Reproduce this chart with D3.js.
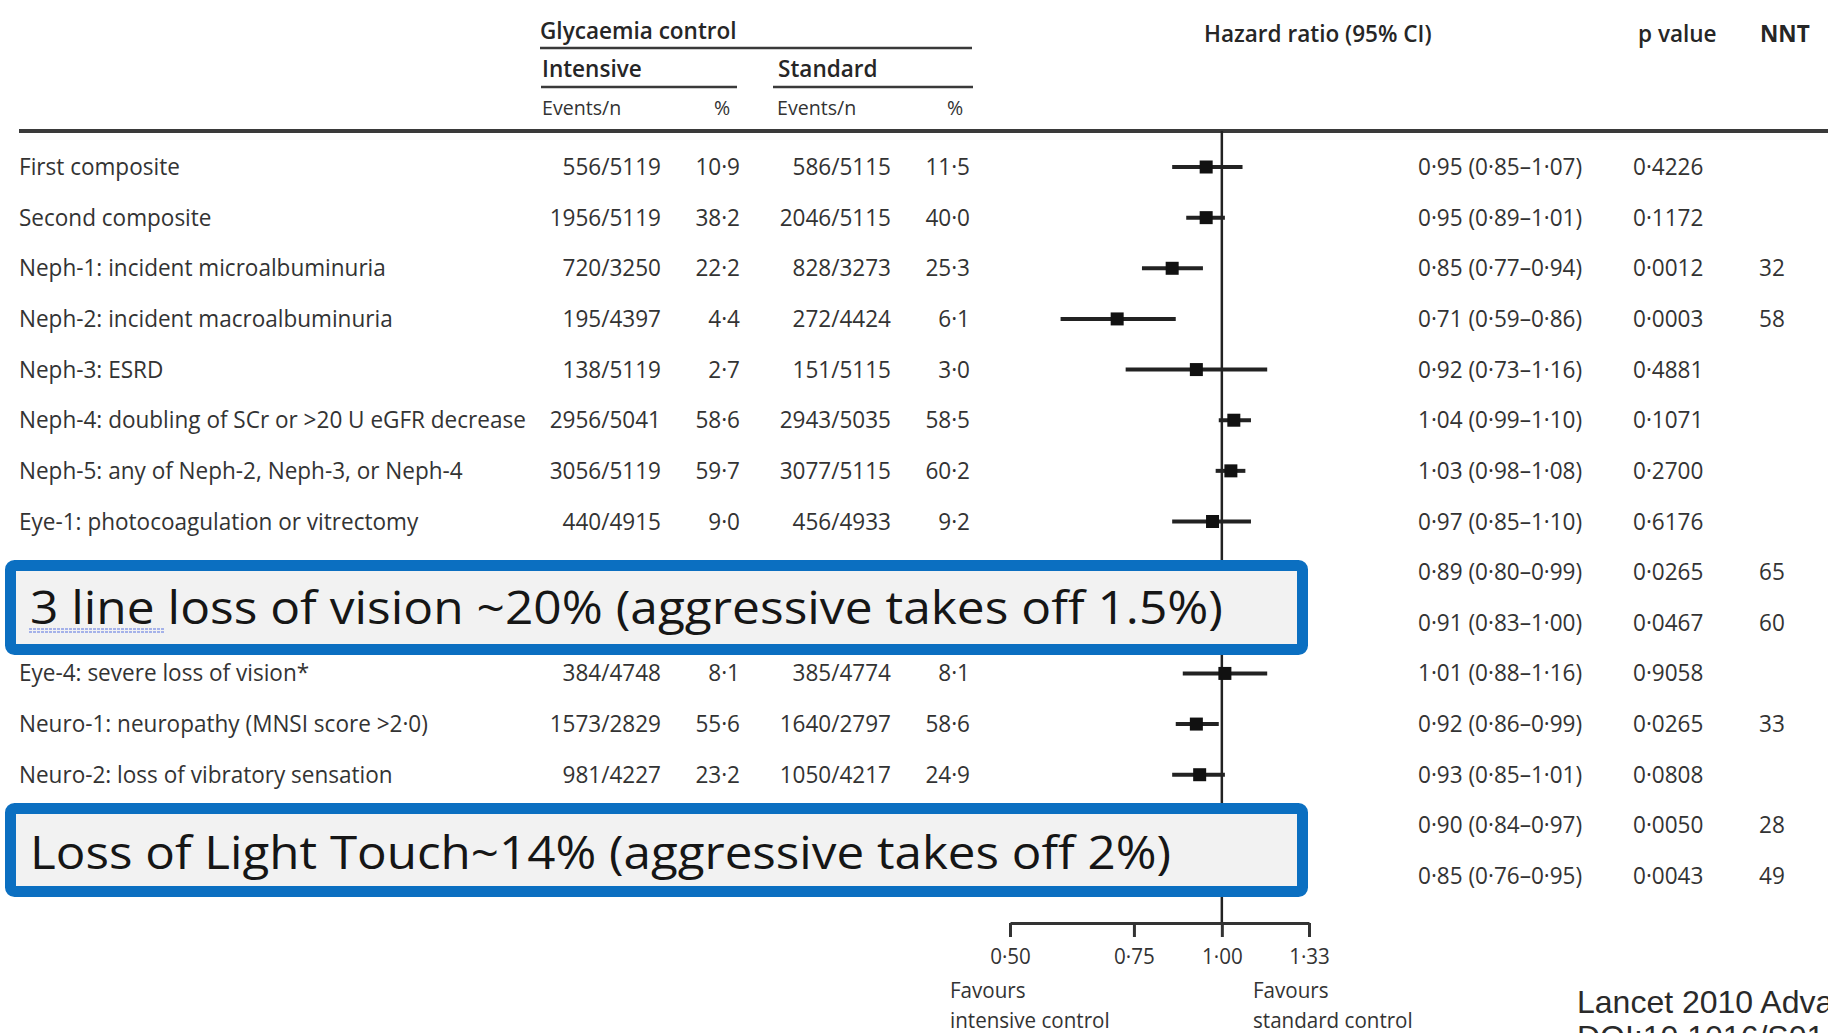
<!DOCTYPE html>
<html>
<head>
<meta charset="utf-8">
<script src="https://cdn.jsdelivr.net/npm/d3@7"></script>
<style>
  html, body { margin: 0; padding: 0; background: #ffffff; }
  svg { display: block; }
</style>
</head>
<body>
<svg id="chart" width="1828" height="1033"></svg>
<script>
// ACCORD microvascular outcomes: intensive vs standard glycaemia control
const outcomes = [
  "First composite",
  "Second composite",
  "Neph-1: incident microalbuminuria",
  "Neph-2: incident macroalbuminuria",
  "Neph-3: ESRD",
  "Neph-4: doubling of SCr or >20 U eGFR decrease",
  "Neph-5: any of Neph-2, Neph-3, or Neph-4",
  "Eye-1: photocoagulation or vitrectomy",
  null,
  null,
  "Eye-4: severe loss of vision*",
  "Neuro-1: neuropathy (MNSI score >2·0)",
  "Neuro-2: loss of vibratory sensation",
  null,
  null
];
const intensiveEvents = ["556/5119", "1956/5119", "720/3250", "195/4397", "138/5119", "2956/5041", "3056/5119", "440/4915", null, null, "384/4748", "1573/2829", "981/4227", null, null];
const intensivePct    = [10.9, 38.2, 22.2, 4.4, 2.7, 58.6, 59.7, 9.0, null, null, 8.1, 55.6, 23.2, null, null];
const standardEvents  = ["586/5115", "2046/5115", "828/3273", "272/4424", "151/5115", "2943/5035", "3077/5115", "456/4933", null, null, "385/4774", "1640/2797", "1050/4217", null, null];
const standardPct     = [11.5, 40.0, 25.3, 6.1, 3.0, 58.5, 60.2, 9.2, null, null, 8.1, 58.6, 24.9, null, null];
const hazardRatio = [0.95, 0.95, 0.85, 0.71, 0.92, 1.04, 1.03, 0.97, 0.89, 0.91, 1.01, 0.92, 0.93, 0.90, 0.85];
const ciLower     = [0.85, 0.89, 0.77, 0.59, 0.73, 0.99, 0.98, 0.85, 0.80, 0.83, 0.88, 0.86, 0.85, 0.84, 0.76];
const ciUpper     = [1.07, 1.01, 0.94, 0.86, 1.16, 1.10, 1.08, 1.10, 0.99, 1.00, 1.16, 0.99, 1.01, 0.97, 0.95];
const pValues = ["0·4226", "0·1172", "0·0012", "0·0003", "0·4881", "0·1071", "0·2700", "0·6176", "0·0265", "0·0467", "0·9058", "0·0265", "0·0808", "0·0050", "0·0043"];
const nnt     = [null, null, 32, 58, null, null, null, null, 65, 60, null, 33, null, 28, 49];
const axisTicks = [0.50, 0.75, 1.00, 1.33];
const callouts = [
  { text: "3 line loss of vision ~20% (aggressive takes off 1.5%)", underlined: "3 line" },
  { text: "Loss of Light Touch~14% (aggressive takes off 2%)", underlined: null }
];
const source = ["Lancet 2010 Advance online publication", "DOI:10.1016/S0140-6736(10)60576-4"];

const svg = d3.select("#chart");
const FONT = "'Open Sans', 'Noto Sans', sans-serif";
const TEXT = "#333333";
const fmt1 = d => d3.format(".1f")(d).replace(".", "·");
const fmt2 = d => d3.format(".2f")(d).replace(".", "·");

// horizontal compression so the table type sets as narrow as the journal face
const probe = svg.append("text").attr("font-family", FONT).attr("font-size", 23).attr("font-weight", 500)
  .text("Neph-4: doubling of SCr or >20 U eGFR decrease");
const sx = 507 / probe.node().getComputedTextLength();
probe.remove();

function put(g, x, y, str, o = {}) {
  return g.append("text")
    .attr("transform", `translate(${x},${y}) scale(${sx},1)`)
    .attr("text-anchor", o.anchor || "start")
    .attr("font-family", FONT)
    .attr("font-size", o.size || 23)
    .attr("font-weight", o.weight || 500)
    .attr("fill", o.fill || TEXT)
    .text(str);
}

const rows = d3.range(outcomes.length);
const y = d3.scalePoint().domain(rows).range([167, 876]);
const x = d3.scaleLog().domain([0.5, 1.33]).range([1010, 1309]);

// ---- column headings ----
const head = svg.append("g");
const HEAD = "#262626";
put(head, 540, 39, "Glycaemia control", { weight: 600, fill: HEAD });
put(head, 542, 77, "Intensive", { weight: 600, fill: HEAD });
put(head, 778, 77, "Standard", { weight: 600, fill: HEAD });
put(head, 542, 115, "Events/n", { size: 20 });
put(head, 722, 115, "%", { size: 20, anchor: "middle" });
put(head, 777, 115, "Events/n", { size: 20 });
put(head, 955, 115, "%", { size: 20, anchor: "middle" });
put(head, 1204, 42, "Hazard ratio (95% CI)", { weight: 600, fill: HEAD });
put(head, 1638, 42, "p value", { weight: 600, fill: HEAD });
put(head, 1760, 42, "NNT", { weight: 700, fill: HEAD });

const rule = (x1, x2, yy, w) => head.append("line")
  .attr("x1", x1).attr("x2", x2).attr("y1", yy).attr("y2", yy)
  .attr("stroke", "#3a3a3a").attr("stroke-width", w);
rule(540, 972, 48, 2.5);
rule(541, 737, 87, 2.5);
rule(773, 973, 87, 2.5);
rule(19, 1828, 131, 4);

// ---- reference line and forest marks ----
const forest = svg.append("g");
forest.append("line")
  .attr("x1", x(1)).attr("x2", x(1)).attr("y1", 131).attr("y2", 923)
  .attr("stroke", "#222").attr("stroke-width", 2.5);

forest.selectAll("line.ci").data(rows).join("line")
  .attr("class", "ci")
  .attr("x1", i => x(ciLower[i])).attr("x2", i => x(ciUpper[i]))
  .attr("y1", i => y(i)).attr("y2", i => y(i))
  .attr("stroke", "#222").attr("stroke-width", 4);

forest.selectAll("rect.hr").data(rows).join("rect")
  .attr("class", "hr")
  .attr("x", i => x(hazardRatio[i]) - 6.5).attr("y", i => y(i) - 6.5)
  .attr("width", 13).attr("height", 13)
  .attr("fill", "#111");

// ---- table body ----
const body = svg.append("g");
rows.forEach(i => {
  const by = y(i) + 8;
  if (outcomes[i]) put(body, 19, by, outcomes[i]);
  if (intensiveEvents[i]) put(body, 661, by, intensiveEvents[i], { anchor: "end" });
  if (intensivePct[i] != null) put(body, 740, by, fmt1(intensivePct[i]), { anchor: "end" });
  if (standardEvents[i]) put(body, 891, by, standardEvents[i], { anchor: "end" });
  if (standardPct[i] != null) put(body, 970, by, fmt1(standardPct[i]), { anchor: "end" });
  put(body, 1418, by, `${fmt2(hazardRatio[i])} (${fmt2(ciLower[i])}–${fmt2(ciUpper[i])})`);
  put(body, 1633, by, pValues[i]);
  if (nnt[i] != null) put(body, 1759, by, String(nnt[i]));
});

// ---- hazard ratio axis ----
const axis = svg.append("g")
  .attr("transform", "translate(0,923)")
  .call(d3.axisBottom(x).tickValues(axisTicks).tickFormat(fmt2).tickSize(14).tickSizeOuter(0).tickPadding(12));
axis.select(".domain").attr("stroke", "#333").attr("stroke-width", 3);
axis.selectAll(".tick line").attr("stroke", "#333").attr("stroke-width", 3);
axis.selectAll(".tick text")
  .attr("font-family", FONT).attr("font-size", 21).attr("font-weight", 500).attr("fill", TEXT)
  .attr("transform", `scale(${sx},1)`);

const fav = svg.append("g");
put(fav, 950, 998, "Favours", { size: 21 });
put(fav, 950, 1028, "intensive control", { size: 21 });
put(fav, 1253, 998, "Favours", { size: 21 });
put(fav, 1253, 1028, "standard control", { size: 21 });

// ---- callout boxes laid over the eye and neuro rows ----
const boxTops = [560, 803];
const boxHeights = [95, 94];
const boxTextWidths = [1193, 1141];
const boxBaselines = [624, 869];
callouts.forEach((c, k) => {
  const g = svg.append("g");
  g.append("rect")
    .attr("x", 10.5).attr("y", boxTops[k] + 5.5)
    .attr("width", 1292).attr("height", boxHeights[k] - 11)
    .attr("rx", 4)
    .attr("fill", "#f2f2f2")
    .attr("stroke", "#0b6fc1").attr("stroke-width", 11);
  g.append("text")
    .attr("x", 30).attr("y", boxBaselines[k])
    .attr("font-family", FONT).attr("font-size", 46)
    .attr("fill", "#161616")
    .attr("textLength", boxTextWidths[k]).attr("lengthAdjust", "spacingAndGlyphs")
    .text(c.text);
  if (c.underlined) {
    const w = boxTextWidths[k] * c.underlined.length / c.text.length * 1.02;
    [0, 3].forEach(dy => g.append("line")
      .attr("x1", 29).attr("x2", 29 + w)
      .attr("y1", boxBaselines[k] + 5 + dy).attr("y2", boxBaselines[k] + 5 + dy)
      .attr("stroke", "#8c9de6").attr("stroke-width", 1.5)
      .attr("stroke-dasharray", "3 1"));
  }
});

// ---- source note ----
const note = svg.append("g");
source.forEach((s, k) => note.append("text")
  .attr("x", 1577).attr("y", 1013 + k * 35)
  .attr("font-family", "'Liberation Sans', Arial, sans-serif")
  .attr("font-size", 32).attr("fill", "#2a2a2a")
  .text(s));
</script>
</body>
</html>
